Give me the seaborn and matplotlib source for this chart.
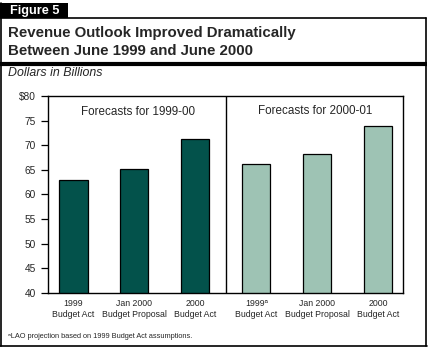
import matplotlib
matplotlib.use("Agg")
import matplotlib.pyplot as plt
from matplotlib.patches import Rectangle
from matplotlib.lines import Line2D
import seaborn as sns
import pandas as pd

# Revenue forecasts, dollars in billions
bar_ids = ["a1", "a2", "a3", "b1", "b2", "b3"]
periods = ["1999-00", "1999-00", "1999-00", "2000-01", "2000-01", "2000-01"]
revenues = [63.0, 65.2, 71.2, 66.1, 68.3, 74.0]
tick_labels = [
    "1999\nBudget Act",
    "Jan 2000\nBudget Proposal",
    "2000\nBudget Act",
    "1999\u1d43\nBudget Act",
    "Jan 2000\nBudget Proposal",
    "2000\nBudget Act",
]
y_ticks = [40, 45, 50, 55, 60, 65, 70, 75, 80]
y_tick_labels = ["40", "45", "50", "55", "60", "65", "70", "75", "$80"]
palette = {"1999-00": "#03524B", "2000-01": "#9EC3B4"}

df = pd.DataFrame({"bar": bar_ids, "period": periods, "revenue": revenues})

sns.set_theme(style="white")
plt.rcParams["font.family"] = ["Liberation Sans", "DejaVu Sans"]
narrow = ["Liberation Sans Narrow", "Liberation Sans", "DejaVu Sans"]

W, H = 428, 347
fig = plt.figure(figsize=(W / 100, H / 100), dpi=100)
fig.patch.set_facecolor("white")

def fx(px):
    return px / W

def fy(py):
    return 1 - py / H

ax = fig.add_axes([fx(48.3), fy(293), fx(402.7) - fx(48.3), fy(96) - fy(293)])
sns.barplot(data=df, x="bar", y="revenue", hue="period", palette=palette,
            dodge=False, width=0.46, edgecolor="black", linewidth=0.9,
            saturation=1, legend=False, ax=ax)

ax.set_xlim(-0.413, 5.4)
ax.set_ylim(40, 80)
ax.set_yticks(y_ticks)
ax.set_yticklabels(y_tick_labels, fontsize=7.3, family=narrow)
ax.set_xticks(range(len(bar_ids)))
ax.set_xticklabels(tick_labels, fontsize=6.3, family=narrow, linespacing=1.3)
ax.set_xlabel("")
ax.set_ylabel("")
ax.tick_params(axis="y", which="major", left=True, length=5, width=0.9,
               color="black", pad=4)
ax.tick_params(axis="x", bottom=False, length=0, pad=4)
for s in ax.spines.values():
    s.set_color("black")
    s.set_linewidth(1.0)
ax.axvline(2.5, color="black", linewidth=1.0)
ax.text(1.06, 76.8, "Forecasts for 1999-00", ha="center", va="center", fontsize=8.4)
ax.text(3.97, 77.0, "Forecasts for 2000-01", ha="center", va="center", fontsize=8.4)

# Outer frame and header
lw = 1.2
fig.add_artist(Rectangle((0, fy(18)), fx(68), fy(3) - fy(18), transform=fig.transFigure,
                         facecolor="black", edgecolor="none"))
fig.add_artist(Line2D([fx(0.6), fx(0.6)], [fy(3), fy(346)], transform=fig.transFigure,
                      color="black", linewidth=lw))
fig.add_artist(Line2D([fx(0), fx(426)], [fy(18), fy(18)], transform=fig.transFigure,
                      color="black", linewidth=lw))
fig.add_artist(Line2D([fx(426), fx(426)], [fy(18), fy(346)], transform=fig.transFigure,
                      color="black", linewidth=lw))
fig.add_artist(Line2D([fx(0), fx(426.5)], [fy(346), fy(346)], transform=fig.transFigure,
                      color="black", linewidth=lw))
fig.add_artist(Line2D([fx(0), fx(426.5)], [fy(63.5), fy(63.5)], transform=fig.transFigure,
                      color="black", linewidth=3.0, solid_capstyle="butt"))

fig.text(fx(9.5), fy(11), "Figure 5", color="white", fontsize=9.2, fontweight="bold",
         ha="left", va="center")
fig.text(fx(8.5), fy(33), "Revenue Outlook Improved Dramatically", fontsize=10.85,
         fontweight="bold", ha="left", va="center")
fig.text(fx(8.5), fy(51), "Between June 1999 and June 2000", fontsize=10.85,
         fontweight="bold", ha="left", va="center")
fig.text(fx(8.5), fy(73), "Dollars in Billions", fontsize=8.9, style="italic",
         ha="left", va="center")
fig.text(fx(8.5), fy(337), "\u1d43LAO projection based on 1999 Budget Act assumptions.",
         fontsize=5.3, family=narrow, ha="left", va="center")

fig.savefig("out.png", dpi=100, facecolor="white")
